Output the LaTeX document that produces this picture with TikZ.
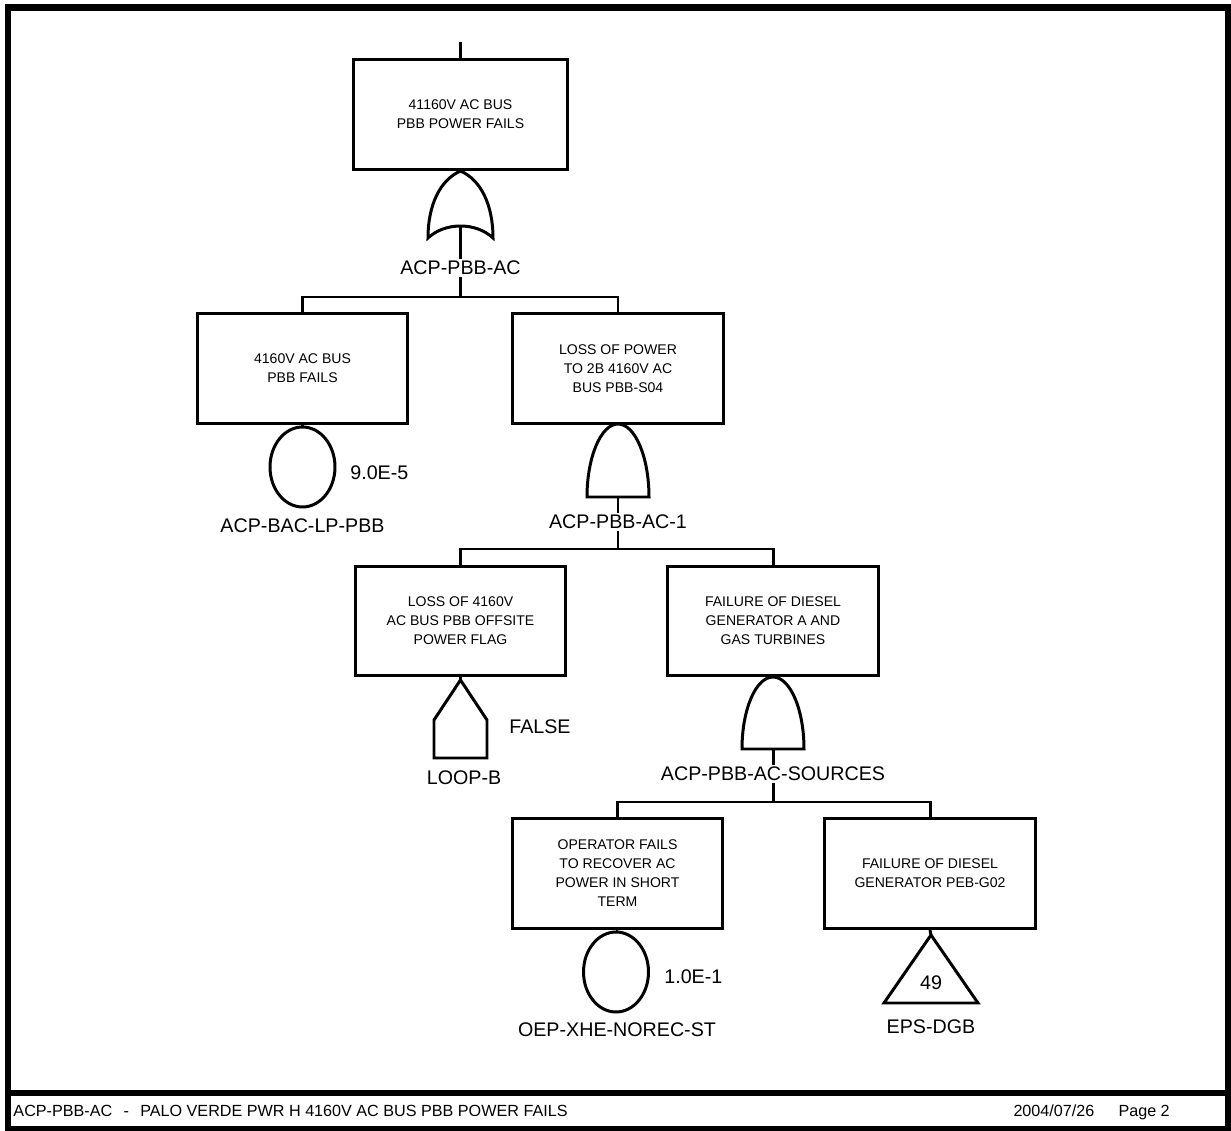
\documentclass[tikz,border=0pt]{standalone}
\usepackage{fontspec}
\setmainfont{Liberation Sans}
\usetikzlibrary{shapes.geometric}

\begin{document}
\begin{tikzpicture}[x=0.02cm,y=-0.02cm,line width=1.7pt,
  every node/.style={font=\fontsize{11.2}{13}\selectfont},
  event/.style={draw,minimum width=4.22cm,minimum height=2.2cm,align=center,font=\fontsize{8}{10.8}\selectfont},
  basic/.style={draw,ellipse,minimum width=1.3cm,minimum height=1.6cm,inner sep=0pt},
  gatelbl/.style={fill=white,inner sep=1pt},
  foot/.style={anchor=base west,inner sep=0pt,font=\fontsize{9.2}{11}\selectfont}]
\useasboundingbox (0,0) rectangle (1231,1131);
\draw[line width=3.6pt] (8,7.5) rectangle (1228,1129);
\draw[line width=3.6pt] (8,1093) -- (1228,1093);

\node[event,minimum width=4.3cm] (top) at (460.5,114.5) {41160V AC BUS\\PBB POWER FAILS};
\node[event] (busf) at (302.5,368.5) {4160V AC BUS\\PBB FAILS};
\node[event] (loss) at (618,368.5) {LOSS OF POWER\\TO 2B 4160V AC\\BUS PBB-S04};
\node[event] (offs) at (460.5,621) {LOSS OF 4160V\\AC BUS PBB OFFSITE\\POWER FLAG};
\node[event] (dga) at (773,621) {FAILURE OF DIESEL\\GENERATOR A AND\\GAS TURBINES};
\node[event] (oper) at (617.5,873.5) {OPERATOR FAILS\\TO RECOVER AC\\POWER IN SHORT\\TERM};
\node[event] (dgb) at (930,873.5) {FAILURE OF DIESEL\\GENERATOR PEB-G02};

\coordinate (in) at (460.5,42);
\draw (in) -- (top.north);
\draw (top.south) .. controls (440,180) and (428,205) .. (428,238) .. controls (445,222) and (476,222) .. (493,238) .. controls (493,205) and (481,180) .. (top.south);
\coordinate (or1) at (460.5,226);
\coordinate (j1) at (460.5,297);
\draw (or1) -- (j1);
\node[gatelbl] (g1) at (460.5,268) {ACP-PBB-AC};
\draw (busf.north) |- (j1) -| (loss.north);

\foreach \gx/\gt/\gb in {618/424/497,773/677/749}
  \draw ({\gx-31},\gb) .. controls ({\gx-31},{\gb-40}) and ({\gx-17},\gt) .. (\gx,\gt) .. controls ({\gx+17},\gt) and ({\gx+31},{\gb-40}) .. ({\gx+31},\gb) -- cycle;

\coordinate (a1) at (618,497);
\coordinate (j2) at (618,549);
\draw (a1) -- (j2);
\node[gatelbl] (g2) at (618,522) {ACP-PBB-AC-1};
\draw (offs.north) |- (j2) -| (dga.north);

\coordinate (a2) at (773,749);
\coordinate (j3) at (773,802);
\draw (a2) -- (j3);
\node[gatelbl] (g3) at (773,774) {ACP-PBB-AC-SOURCES};
\draw (oper.north) |- (j3) -| (dgb.north);

\node[basic] (be1) at (302.5,467) {};
\draw (busf.south) -- (be1.north);
\node[anchor=west] (p1) at (343,473) {9.0E-5};
\node (n1) at (302.5,526) {ACP-BAC-LP-PBB};

\node[basic] (be2) at (616,972) {};
\draw (oper.south) -- (be2.north);
\node[anchor=west] (p2) at (657,977) {1.0E-1};
\node (n2) at (617,1030) {OEP-XHE-NOREC-ST};

\coordinate (h1) at (460.5,680);
\draw (offs.south) -- (h1);
\draw (h1) -- ++(-26.5,40) -- ++(0,38) -- ++(53,0) -- ++(0,-38) -- cycle;
\node[anchor=west] (hf) at (502,727) {FALSE};
\node (n3) at (464,778) {LOOP-B};

\coordinate (t1) at (931,935);
\draw (dgb.south) -- (t1);
\draw (t1) -- ++(-47,68) -- ++(94,0) -- cycle;
\node (tr) at (931,983) {49};
\node (n4) at (931,1027) {EPS-DGB};

\node[foot] (ft) at (12,1116) {ACP-PBB-AC\hspace{0.7em}-\hspace{0.7em}PALO VERDE PWR H 4160V AC BUS PBB POWER FAILS};
\node[foot] (dt) at (1012,1116) {2004/07/26};
\node[foot] (pg) at (1117,1116) {Page 2};
\end{tikzpicture}
\end{document}
